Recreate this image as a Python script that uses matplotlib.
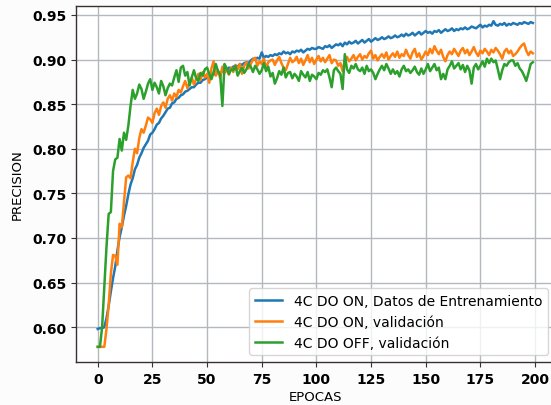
import matplotlib
matplotlib.use("Agg")
import matplotlib.pyplot as plt
import numpy as np

epochs = list(range(200))

train_do_on = [
    0.598, 0.599, 0.599, 0.600, 0.610, 0.624, 0.640, 0.655, 0.668, 0.686,
    0.701, 0.712, 0.725, 0.736, 0.749, 0.760, 0.767, 0.777, 0.782, 0.790,
    0.795, 0.801, 0.805, 0.809, 0.816, 0.818, 0.822, 0.827, 0.829, 0.834,
    0.837, 0.841, 0.845, 0.846, 0.851, 0.852, 0.856, 0.857, 0.860, 0.861,
    0.864, 0.865, 0.867, 0.869, 0.869, 0.872, 0.874, 0.874, 0.877, 0.878,
    0.880, 0.880, 0.882, 0.884, 0.883, 0.886, 0.885, 0.887, 0.888, 0.888,
    0.891, 0.890, 0.892, 0.893, 0.892, 0.895, 0.894, 0.896, 0.897, 0.896,
    0.899, 0.901, 0.900, 0.902, 0.901, 0.908, 0.902, 0.904, 0.903, 0.905,
    0.904, 0.906, 0.905, 0.907, 0.906, 0.909, 0.907, 0.908, 0.906, 0.909,
    0.908, 0.910, 0.909, 0.911, 0.908, 0.910, 0.912, 0.911, 0.913, 0.912,
    0.912, 0.914, 0.913, 0.912, 0.915, 0.914, 0.916, 0.913, 0.915, 0.917,
    0.916, 0.918, 0.915, 0.919, 0.917, 0.920, 0.918, 0.919, 0.921, 0.918,
    0.920, 0.922, 0.919, 0.921, 0.923, 0.920, 0.922, 0.924, 0.922, 0.923,
    0.925, 0.923, 0.924, 0.926, 0.924, 0.925, 0.927, 0.925, 0.926, 0.928,
    0.926, 0.929, 0.927, 0.928, 0.930, 0.927, 0.929, 0.931, 0.928, 0.930,
    0.932, 0.930, 0.931, 0.929, 0.932, 0.931, 0.933, 0.930, 0.932, 0.934,
    0.932, 0.933, 0.935, 0.932, 0.934, 0.933, 0.935, 0.934, 0.936, 0.934,
    0.935, 0.937, 0.936, 0.935, 0.937, 0.939, 0.936, 0.938, 0.937, 0.939,
    0.938, 0.943, 0.939, 0.938, 0.940, 0.939, 0.941, 0.938, 0.940, 0.939,
    0.941, 0.940, 0.939, 0.941, 0.940, 0.942, 0.941, 0.940, 0.942, 0.941,
]

val_do_on = [
    0.578, 0.578, 0.578, 0.578, 0.598, 0.625, 0.660, 0.681, 0.680, 0.670,
    0.716, 0.712, 0.740, 0.768, 0.770, 0.767, 0.785, 0.800, 0.795, 0.812,
    0.822, 0.818, 0.826, 0.835, 0.833, 0.829, 0.840, 0.845, 0.838, 0.848,
    0.852, 0.846, 0.856, 0.860, 0.854, 0.862, 0.858, 0.866, 0.863, 0.870,
    0.876, 0.868, 0.874, 0.880, 0.872, 0.878, 0.884, 0.877, 0.886, 0.880,
    0.884, 0.874, 0.890, 0.898, 0.882, 0.888, 0.879, 0.892, 0.885, 0.889,
    0.883, 0.891, 0.886, 0.894, 0.889, 0.895, 0.884, 0.893, 0.897, 0.890,
    0.895, 0.900, 0.902, 0.893, 0.898, 0.895, 0.901, 0.890, 0.897, 0.899,
    0.900, 0.894, 0.899, 0.903, 0.896, 0.891, 0.888, 0.895, 0.902, 0.897,
    0.899, 0.903, 0.896, 0.901, 0.894, 0.899, 0.905, 0.897, 0.902, 0.895,
    0.900, 0.904, 0.898, 0.902, 0.897, 0.901, 0.905, 0.896, 0.900, 0.899,
    0.893, 0.896, 0.887, 0.899, 0.903, 0.898, 0.901, 0.905, 0.899, 0.903,
    0.906, 0.900, 0.904, 0.902, 0.907, 0.910, 0.901, 0.905, 0.899, 0.903,
    0.906, 0.902, 0.908, 0.900, 0.904, 0.907, 0.903, 0.909, 0.902, 0.906,
    0.904, 0.911, 0.905, 0.901, 0.908, 0.912, 0.903, 0.907, 0.900, 0.904,
    0.909, 0.905, 0.912, 0.907, 0.915, 0.910, 0.906, 0.911, 0.903, 0.898,
    0.905, 0.909, 0.906, 0.912, 0.908, 0.904, 0.910, 0.913, 0.907, 0.911,
    0.905, 0.909, 0.914, 0.908, 0.904, 0.910, 0.907, 0.912, 0.909, 0.905,
    0.911, 0.908, 0.913, 0.910, 0.906, 0.901, 0.909, 0.912, 0.907, 0.910,
    0.904, 0.906, 0.909, 0.913, 0.916, 0.918, 0.910, 0.905, 0.909, 0.907,
]

val_do_off = [
    0.578, 0.578, 0.600, 0.645, 0.690, 0.727, 0.729, 0.775, 0.788, 0.790,
    0.811, 0.798, 0.818, 0.810, 0.826, 0.848, 0.866, 0.856, 0.862, 0.872,
    0.867, 0.856, 0.864, 0.873, 0.878, 0.866, 0.874, 0.869, 0.862, 0.876,
    0.870, 0.860, 0.868, 0.873, 0.871, 0.880, 0.888, 0.875, 0.891, 0.893,
    0.882, 0.886, 0.871, 0.880, 0.888, 0.879, 0.876, 0.885, 0.882, 0.889,
    0.891, 0.884, 0.878, 0.886, 0.895, 0.887, 0.883, 0.848, 0.895, 0.890,
    0.884, 0.889, 0.888, 0.893, 0.882, 0.887, 0.891, 0.885, 0.889, 0.895,
    0.892, 0.886, 0.893, 0.889, 0.884, 0.888, 0.896, 0.887, 0.892, 0.881,
    0.885, 0.873, 0.879, 0.887, 0.883, 0.891, 0.880, 0.885, 0.886, 0.879,
    0.884, 0.881, 0.876, 0.887, 0.883, 0.880, 0.886, 0.876, 0.883, 0.881,
    0.878, 0.885, 0.883, 0.888, 0.886, 0.889, 0.880, 0.869, 0.888, 0.891,
    0.887, 0.884, 0.867, 0.906, 0.889, 0.885, 0.893, 0.890, 0.895, 0.889,
    0.887, 0.891, 0.884, 0.893, 0.887, 0.889, 0.885, 0.878, 0.884, 0.889,
    0.893, 0.888, 0.895, 0.890, 0.884, 0.889, 0.884, 0.887, 0.881, 0.889,
    0.893, 0.887, 0.889, 0.885, 0.888, 0.892, 0.886, 0.883, 0.890, 0.884,
    0.889, 0.895, 0.887, 0.891, 0.895, 0.888, 0.891, 0.878, 0.884, 0.878,
    0.889, 0.893, 0.898, 0.890, 0.893, 0.896, 0.889, 0.894, 0.886, 0.893,
    0.888, 0.873, 0.891, 0.895, 0.889, 0.893, 0.898, 0.892, 0.901, 0.896,
    0.901, 0.897, 0.899, 0.889, 0.878, 0.888, 0.895, 0.893, 0.897, 0.899,
    0.899, 0.893, 0.896, 0.890, 0.887, 0.882, 0.876, 0.885, 0.895, 0.897,
]

labels = [
    "4C DO ON, Datos de Entrenamiento",
    "4C DO ON, validación",
    "4C DO OFF, validación",
]
colors = ["#1f77b4", "#ff7f0e", "#2ca02c"]
x_ticks = [0, 25, 50, 75, 100, 125, 150, 175, 200]
y_ticks = [0.60, 0.65, 0.70, 0.75, 0.80, 0.85, 0.90, 0.95]

plt.rcParams['font.family'] = ['DejaVu Sans']
fig = plt.figure(figsize=(5.51, 4.06), dpi=100, facecolor="#fcfcfd")
ax = fig.add_axes([0.1379, 0.1059, 0.8686, 0.8768])
ax.set_facecolor("white")

for series, lab, c in zip([train_do_on, val_do_on, val_do_off], labels, colors):
    ax.plot(epochs, series, color=c, lw=1.8, label=lab)

ax.set_xlim(-9.95, 208.95)
ax.set_ylim(0.561, 0.960)
ax.set_xticks(x_ticks)
ax.set_yticks(y_ticks)
ax.set_yticklabels([f"{v:.2f}" for v in y_ticks])
ax.tick_params(labelsize=10, color="#333333")
for lbl in ax.get_xticklabels() + ax.get_yticklabels():
    lbl.set_fontweight("bold")
ax.grid(True, color="#b4b8bd", lw=1.0)
ax.set_axisbelow(True)
for sp in ax.spines.values():
    sp.set_color("#3a3030")
    sp.set_linewidth(1.0)

ax.set_xlabel("EPOCAS", fontsize=9.5, labelpad=3)
ax.set_ylabel("PRECISION", fontsize=9.5, labelpad=6)

leg = ax.legend(loc="lower right", fontsize=10, framealpha=0.8)

fig.savefig("out.png", dpi=100, facecolor=fig.get_facecolor())
